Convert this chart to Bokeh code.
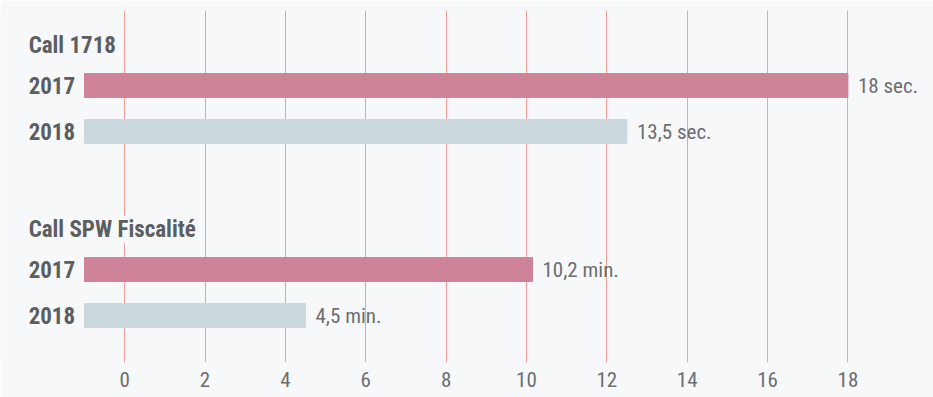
from bokeh.plotting import figure
from bokeh.models import Range1d, ColumnDataSource, FixedTicker
from bokeh.core.properties import value
from bokeh.embed import file_html
from bokeh.resources import INLINE

# ---- data ----
groups = ["Call 1718", "Call SPW Fiscalité"]
years = ["2017", "2018"]
bar_group = [0, 0, 1, 1]
bar_year = [0, 1, 0, 1]
bar_values = [18, 12.5, 10.15, 4.5]
bar_labels = ["18 sec.", "13,5 sec.", "10,2 min.", "4,5 min."]
bar_start = -1
x_ticks = [0, 2, 4, 6, 8, 10, 12, 14, 16, 18]

# ---- styling ----
BG = "#f7f8fa"
C2017 = "#cf8399"
C2018 = "#cbd9de"
GRID = "#f59c9c"
DARK = "#5c5e60"
MID = "#6c6e70"
FONT = "Roboto Condensed"

group_pitch = 4
header_offset = -0.87

rows_y = [g * group_pitch + yi for g, yi in zip(bar_group, bar_year)]
src = ColumnDataSource(dict(
    y=rows_y,
    value=bar_values,
    label=bar_labels,
    year=[years[i] for i in bar_year],
    color=[C2017 if i == 0 else C2018 for i in bar_year],
))
hdr = ColumnDataSource(dict(
    y=[g * group_pitch + header_offset for g in range(len(groups))],
    text=groups,
))

p = figure(width=933, height=397, output_backend="svg", toolbar_location=None,
           x_range=Range1d(-3.09, 20.13), y_range=Range1d(6.02, -1.63),
           y_axis_location=None,
           min_border_left=0, min_border_right=0, min_border_top=10, min_border_bottom=35)
p.background_fill_color = BG
p.border_fill_color = BG
p.outline_line_color = None

p.xgrid.ticker = FixedTicker(ticks=x_ticks)
p.xgrid.grid_line_color = GRID
p.xgrid.grid_line_width = 1
p.ygrid.visible = False

ax = p.xaxis[0]
ax.ticker = FixedTicker(ticks=x_ticks)
ax.axis_line_color = None
ax.major_tick_line_color = None
ax.major_tick_out = 0
ax.major_tick_in = 0
ax.minor_tick_line_color = None
ax.major_label_standoff = 9
ax.major_label_text_font = FONT
ax.major_label_text_font_size = "21px"
ax.major_label_text_color = MID

p.hbar(y="y", left=bar_start, right="value", height=0.52, color="color", source=src)

p.text(x=-2.39, y="y", text="year", source=src, text_font=value(FONT),
       text_font_style="bold", text_font_size="23px", text_color=DARK,
       text_align="left", text_baseline="middle")
p.text(x=-2.39, y="y", text="text", source=hdr, text_font=value(FONT),
       text_font_style="bold", text_font_size="23px", text_color=DARK,
       text_align="left", text_baseline="middle",
       background_fill_color=BG)
p.text(x="value", y="y", text="label", source=src, x_offset=10,
       text_font=value(FONT), text_font_size="21px", text_color=MID,
       text_align="left", text_baseline="middle")

open("out.html", "w").write(file_html(p, INLINE))
